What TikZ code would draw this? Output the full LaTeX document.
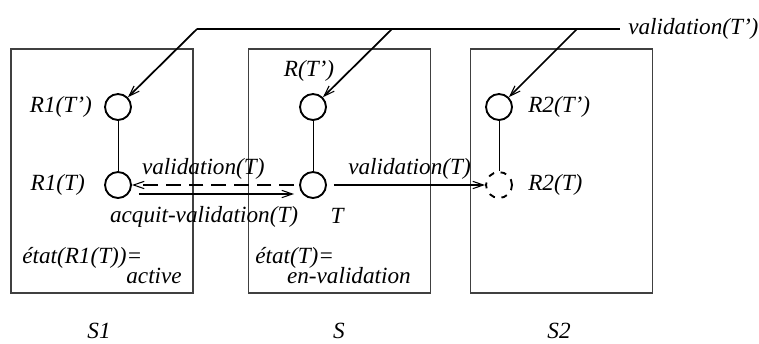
\documentclass[tikz,border=0pt]{standalone}
\usepackage{fontspec}
\setmainfont{Liberation Serif}
\usepackage{tikz}
\usetikzlibrary{arrows.meta}

\begin{document}
\begin{tikzpicture}[x=0.75pt,y=-0.75pt,font=\fontsize{17.4}{20}\selectfont\itshape]
\useasboundingbox (0,0) rectangle (759,343);
\begin{scope}[every node/.style={draw=black!75,line width=0.8pt,minimum width=136.5pt,minimum height=183pt,inner sep=0}]
    \node (S1box) at (102,171) {};
    \node (Sbox) at (339.5,171) {};
    \node (S2box) at (561.5,171) {};
\end{scope}
\begin{scope}[every node/.style={circle,draw,line width=1.4pt,minimum size=19.5pt,inner sep=0}]
    \node (R1Tp) at (118,107) {};
    \node (R1T) at (118,185) {};
    \node (RTp) at (313,107) {};
    \node (T) at (313,185) {};
    \node (R2Tp) at (499,107) {};
    \node[dash pattern=on 4.5pt off 5pt] (R2T) at (499,185) {};
\end{scope}
\begin{scope}[every node/.style={inner sep=0}]
    \node[anchor=base east] (lR1Tp) at (92,112.5) {R1(T')};
    \node[anchor=base east] (lR1T) at (85,190) {R1(T)};
    \node[anchor=base] (lRTp) at (309,76.5) {R(T')};
    \node[anchor=base] (lT) at (337,223) {T};
    \node[anchor=base west] (lR2Tp) at (528,112.5) {R2(T')};
    \node[anchor=base west] (lR2T) at (528,190.5) {R2(T)};
    \node[anchor=base west] (etatA) at (22,263) {état(R1(T))=};
    \node[anchor=base east] (etatAval) at (182,283) {active};
    \node[anchor=base west] (etatB) at (255,263) {état(T)=};
    \node[anchor=base east] (etatBval) at (411,283) {en-validation};
    \node[anchor=base] (nS1) at (99,338) {S1};
    \node[anchor=base] (nS) at (339,338) {S};
    \node[anchor=base] (nS2) at (559,338) {S2};
\end{scope}
\coordinate (barL) at (197,29);
\coordinate (barM) at (392,29);
\coordinate (barN) at (577,29);
\coordinate (barR) at (620,29);
\draw[line width=1.5pt] (barL) -- (barR);
\node[anchor=base west,inner sep=0] (lvalTp) at (628,34.5) {validation(T')};
\draw[line width=0.6pt] (R1Tp) -- (R1T);
\draw[line width=0.6pt] (RTp) -- (T);
\draw[line width=0.6pt] (R2Tp) -- (R2T);
\begin{scope}[>={Straight Barb[length=8pt,width=5.5pt,line width=0.8pt]},
              line width=1.3pt,
              every node/.style={inner sep=0}]
    \draw[->] (barL) -- (R1Tp);
    \draw[->] (barM) -- (RTp);
    \draw[->] (barN) -- (R2Tp);
    \draw[->,dash pattern=on 11pt off 6pt] ([shift={(-5,0)}]T.west) -- (R1T.east)
        node[pos=0.56,anchor=base,yshift=8pt] (lvalA) {validation(T)};
    \draw[->] ([shift={(7,9)}]R1T.east) -- ([shift={(-5,9)}]T.west)
        node[pos=0.42,anchor=base,yshift=-21pt] (lack) {acquit-validation(T)};
    \draw[->] ([shift={(7,0)}]T.east) -- (R2T.west)
        node[midway,anchor=base,yshift=8pt] (lvalB) {validation(T)};
\end{scope}
\end{tikzpicture}
\end{document}
